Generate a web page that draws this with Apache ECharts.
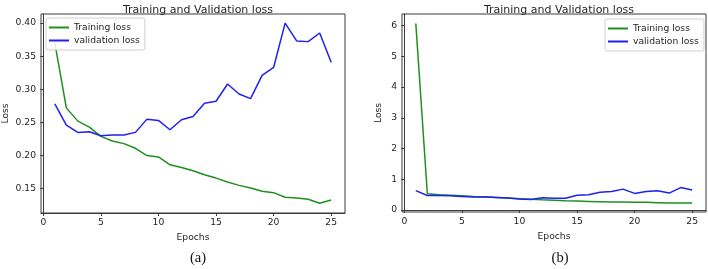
<!DOCTYPE html>
<html>
<head>
<meta charset="utf-8">
<script src="https://cdn.jsdelivr.net/npm/echarts@6/dist/echarts.min.js"></script>
<style>
  html, body { margin: 0; padding: 0; background: #fff; }
  #main { width: 708px; height: 269px; }
</style>
</head>
<body>
<div id="main"></div>
<script type="text/javascript">
    // 数据：epoch 与各条曲线
    var epochs = [1,2,3,4,5,6,7,8,9,10,11,12,13,14,15,16,17,18,19,20,21,22,23,24,25];
    var trainA = [0.370,0.272,0.252,0.243,0.229,0.222,0.218,0.211,0.200,0.198,0.186,0.182,0.177,0.171,0.166,0.160,0.155,0.151,0.146,0.144,0.137,0.136,0.134,0.128,0.133];
    var valA   = [0.278,0.246,0.235,0.236,0.230,0.231,0.231,0.235,0.255,0.253,0.239,0.254,0.259,0.279,0.282,0.308,0.293,0.286,0.321,0.333,0.400,0.373,0.372,0.385,0.341];
    var trainB = [6.07,0.53,0.50,0.48,0.46,0.44,0.43,0.41,0.39,0.37,0.35,0.33,0.32,0.30,0.29,0.28,0.27,0.26,0.26,0.25,0.25,0.24,0.23,0.23,0.23];
    var valB   = [0.63,0.47,0.47,0.46,0.44,0.42,0.42,0.41,0.39,0.36,0.34,0.40,0.38,0.38,0.48,0.50,0.58,0.60,0.68,0.54,0.60,0.63,0.55,0.73,0.65];
    var xTicks = [0,5,10,15,20,25];
    var yTicksA = [0.15,0.20,0.25,0.30,0.35,0.40];
    var yTicksB = [0,1,2,3,4,5,6];

    function pairs(ys){
        var out = [];
        for(var i = 0; i < epochs.length; i++){
            out.push([epochs[i], ys[i]]);
        }
        return out;
    }

    var txt = '#262626';
    var spine = '#3a3a3a';
    var font = 'DejaVu Sans';
    var fs = 9.2;

    function xAxisCfg(idx){
        return {
            type: 'value', gridIndex: idx, min: -0.2, max: 26.2,
            name: 'Epochs', nameLocation: 'middle', nameGap: 20,
            nameTextStyle: { color: txt, fontSize: fs, fontFamily: font },
            splitLine: { show: false },
            axisLine: { lineStyle: { color: spine, width: 1 } },
            axisTick: { customValues: xTicks, length: 3, lineStyle: { color: spine } },
            axisLabel: { customValues: xTicks, color: txt, fontSize: fs, fontFamily: font, margin: 5 }
        };
    }

    function yAxisCfg(idx, min, max, ticks, digits, gap){
        return {
            type: 'value', gridIndex: idx, min: min, max: max,
            name: 'Loss', nameLocation: 'middle', nameGap: gap, nameRotate: 90,
            nameTextStyle: { color: txt, fontSize: fs, fontFamily: font },
            splitLine: { show: false },
            axisLine: { show: true, lineStyle: { color: spine, width: 1 } },
            axisTick: { show: true, customValues: ticks, length: 3, lineStyle: { color: spine } },
            axisLabel: {
                customValues: ticks, color: txt, fontSize: fs, fontFamily: font, margin: 5,
                formatter: function(v){ return v.toFixed(digits); }
            }
        };
    }

    function legendCfg(pos){
        var cfg = {
            orient: 'vertical', itemWidth: 20, itemHeight: 2, itemGap: 4,
            icon: 'rect',
            padding: [5, 5, 5, 3],
            borderColor: '#d0d0d0', borderWidth: 1, borderRadius: 2,
            backgroundColor: 'rgba(255,255,255,0.85)',
            textStyle: { color: txt, fontSize: fs, fontFamily: font },
            data: ['Training loss', 'validation loss']
        };
        for (var k in pos) cfg[k] = pos[k];
        return cfg;
    }

    function lineSeries(name, color, xi, data){
        return {
            type: 'line', name: name, xAxisIndex: xi, yAxisIndex: xi,
            data: pairs(data), showSymbol: false, symbol: 'none',
            lineStyle: { color: color, width: 1.5 }, itemStyle: { color: color },
            animation: false
        };
    }

    var myChart = echarts.init(document.getElementById('main'), null, { renderer: 'canvas' });

    var option = {
        animation: false,
        title: [
            { text: 'Training and Validation loss', left: 193, top: 0, textAlign: 'center',
              textStyle: { color: txt, fontSize: 11, fontWeight: 'normal', fontFamily: font } },
            { text: 'Training and Validation loss', left: 554, top: 0, textAlign: 'center',
              textStyle: { color: txt, fontSize: 11, fontWeight: 'normal', fontFamily: font } },
            { text: '(a)', left: 193, top: 246, textAlign: 'center',
              textStyle: { color: '#111', fontSize: 14.5, fontWeight: 'normal', fontFamily: 'Liberation Serif' } },
            { text: '(b)', left: 555, top: 246, textAlign: 'center',
              textStyle: { color: '#111', fontSize: 14.5, fontWeight: 'normal', fontFamily: 'Liberation Serif' } }
        ],
        legend: [
            legendCfg({ left: 46, top: 18 }),
            legendCfg({ left: 605, top: 19 })
        ],
        grid: [
            { left: 41, top: 14, width: 304, height: 199, show: true, borderColor: spine, borderWidth: 1, containLabel: false },
            { left: 402, top: 14, width: 304, height: 198, show: true, borderColor: spine, borderWidth: 1, containLabel: false }
        ],
        xAxis: [ xAxisCfg(0), xAxisCfg(1) ],
        yAxis: [
            yAxisCfg(0, 0.1133, 0.4137, yTicksA, 2, 31),
            yAxisCfg(1, -0.065, 6.38, yTicksB, 0, 19)
        ],
        series: [
            lineSeries('Training loss', '#1e901e', 0, trainA),
            lineSeries('validation loss', '#2020f0', 0, valA),
            lineSeries('Training loss', '#1e901e', 1, trainB),
            lineSeries('validation loss', '#2020f0', 1, valB)
        ]
    };
    myChart.setOption(option);
</script>
</body>
</html>
